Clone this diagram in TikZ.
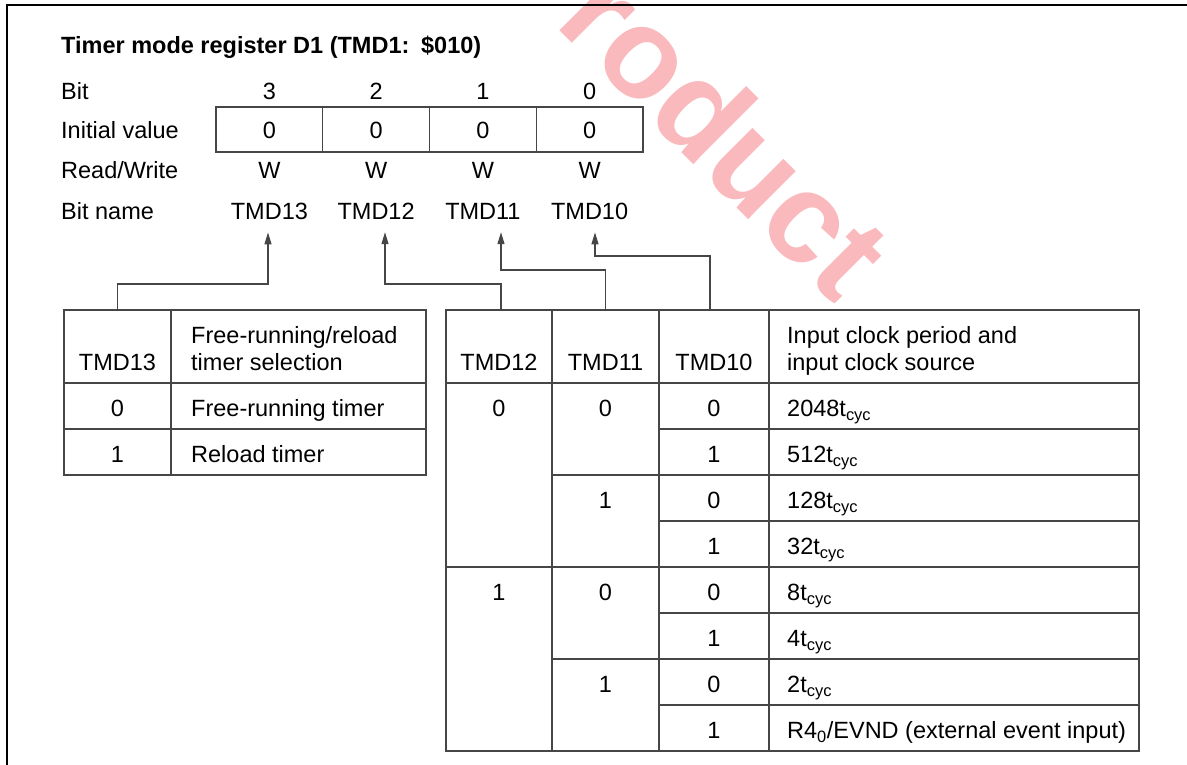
\documentclass[tikz,border=0pt]{standalone}
\usepackage{fontspec}
\setmainfont{Liberation Sans}
\usetikzlibrary{arrows.meta}
\definecolor{stamp}{RGB}{250,185,188}
\definecolor{rule}{RGB}{70,70,70}
\begin{document}
\begin{tikzpicture}[x=1pt,y=-1pt,
    font=\fontsize{23.5}{28}\selectfont,
    txt/.style={inner sep=0pt,anchor=base},
    lbl/.style={inner sep=0pt,anchor=base west},
    tabline/.style={line width=1.3pt,draw=rule},
    sig/.style={line width=1.3pt,draw=rule,-{Triangle[length=12pt,width=7pt]}}]
    \useasboundingbox (0,0) rectangle (1187,765);
    \node[rotate=-45,text=stamp,font=\fontsize{128}{128}\bfseries\selectfont] (wm) at (727,133) {roduct};
    \draw[line width=2pt] (7,765) |- (1187,5);
    \node[lbl,font=\fontsize{23.5}{28}\bfseries\selectfont] (title) at (61,54) {Timer mode register D1 (TMD1:\enspace\$010)};
    \node[lbl] (lbit) at (61,100) {Bit};
    \node[lbl] (linit) at (61,138.5) {Initial value};
    \node[lbl] (lrw) at (61,178.5) {Read/Write};
    \node[lbl] (lname) at (61,219.5) {Bit name};
    \draw[tabline] (216,107) rectangle (643,152);
    \foreach \x in {322.75,429.5,536.25} \draw[tabline] (\x,107) -- (\x,152);
    \foreach \b/\x in {3/269.4,2/376.1,1/482.9,0/589.6} {
        \node[txt] (bit\b) at (\x,100) {\b};
        \node[txt] (ini\b) at (\x,138.5) {0};
        \node[txt] (rw\b) at (\x,178.5) {W};
        \node[txt] (b1\b) at (\x,219.5) {TMD1\b};
    }
    \coordinate (ltop) at (0,310);
    \coordinate (rtop) at (0,310);
    \draw[tabline] (64,310) rectangle (426,475);
    \draw[tabline] (171,310) -- (171,475);
    \foreach \y in {383,429} \draw[tabline] (64,\y) -- (426,\y);
    \node[txt] (h13) at (117.5,370.5) {TMD13};
    \node[lbl] (hsel) at (191,343.5) {Free-running/reload};
    \node[lbl] (hsel2) at (191,370.5) {timer selection};
    \node[txt] (m0) at (117.5,416.5) {0};
    \node[lbl] (d0) at (191,416.5) {Free-running timer};
    \node[txt] (m1) at (117.5,462.5) {1};
    \node[lbl] (d1) at (191,462.5) {Reload timer};
    \draw[tabline] (446,310) rectangle (1139,751);
    \foreach \x in {552,659,769} \draw[tabline] (\x,310) -- (\x,751);
    \foreach \y in {383,567} \draw[tabline] (446,\y) -- (1139,\y);
    \foreach \y in {475,659} \draw[tabline] (552,\y) -- (1139,\y);
    \foreach \y in {429,521,613,705} \draw[tabline] (659,\y) -- (1139,\y);
    \node[txt] (h12) at (499,370.5) {TMD12};
    \node[txt] (h11) at (605.5,370.5) {TMD11};
    \node[txt] (h10) at (714,370.5) {TMD10};
    \node[lbl] (hclk) at (787,343.5) {Input clock period and};
    \node[lbl] (hclk2) at (787,370.5) {input clock source};
    \node[txt] (v12a) at (499,416.5) {0};
    \node[txt] (v12b) at (499,600.5) {1};
    \foreach \i/\v in {0/0,2/1,4/0,6/1} \node[txt] (v11\i) at (605.5,416.5+46*\i) {\v};
    \foreach \i/\v/\t in {0/0/2048,1/1/512,2/0/128,3/1/32,4/0/8,5/1/4,6/0/2} {
        \node[txt] (v10\i) at (714,416.5+46*\i) {\v};
        \node[lbl] (clk\i) at (787,416.5+46*\i) {\t t\textsubscript{cyc}};
    }
    \node[txt] (v107) at (714,738.5) {1};
    \node[lbl] (clk7) at (787,738.5) {R4\textsubscript{0}/EVND (external event input)};
    \draw[sig] (h13 |- ltop) -- ++(0,-26) -| ([xshift=-1.4pt,yshift=-12.5pt]b13.south);
    \draw[sig] ([xshift=2pt]h12.center |- rtop) -- ++(0,-26) -| ([xshift=8.9pt,yshift=-12.5pt]b12.south);
    \draw[sig] (h11 |- rtop) -- ++(0,-40) -| ([xshift=18.1pt,yshift=-12.5pt]b11.south);
    \draw[sig] ([xshift=-4pt]h10.center |- rtop) -- ++(0,-54) -| ([xshift=5.4pt,yshift=-12.5pt]b10.south);
\end{tikzpicture}
\end{document}
